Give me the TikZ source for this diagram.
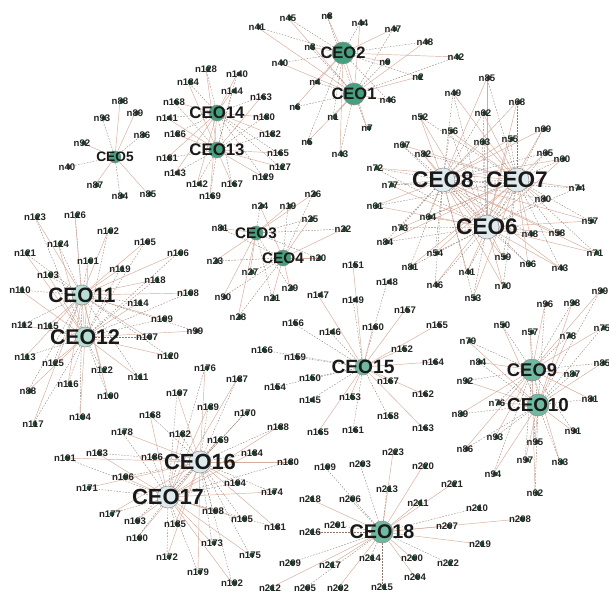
\documentclass[tikz,border=0pt]{standalone}
\usepackage{fontspec}
\setmainfont{Liberation Sans}
\pgfdeclarelayer{bg}
\pgfdeclarelayer{fg}
\pgfsetlayers{bg,main,fg}
\definecolor{esol}{RGB}{214,172,155}
\definecolor{edsh}{RGB}{140,120,110}
\definecolor{dotc}{RGB}{30,78,50}
\definecolor{cgreen}{RGB}{70,160,125}
\definecolor{clight}{RGB}{222,234,238}
\definecolor{cteal}{RGB}{185,222,212}
\definecolor{cmid}{RGB}{110,185,160}
\tikzset{
  es/.style={draw=esol,line width=0.45pt},
  ed/.style={draw=edsh,line width=0.35pt,dash pattern=on 1.6pt off 1.4pt},
  sn/.style={inner sep=0pt,text=black!85,font=\fontsize{9.6}{10}\selectfont\bfseries},
  ceonode/.style={circle,inner sep=0pt,draw=black!45,line width=0.5pt},
  ceolab/.style={inner sep=0pt,text=black!90,font=\bfseries}
}
\newcommand\mkceo[6]{% name,x,y,diameter,fontsize,colour
  \node[ceonode,fill=#6,minimum size=#4] (#1) at (#2,#3) {};
  \begin{pgfonlayer}{fg}
  \node[ceolab,font=\fontsize{#5}{#5}\selectfont\bfseries] (#1lab) at (#2,#3) {#1};
  \end{pgfonlayer}
}
\newcommand\clus[3]{% prefix, ceo list, nodes x/y/label
  \foreach \x/\y/\l [count=\i] in {#3} {
    \fill[dotc] (\x+2,\y) circle (2.4);
    \node[sn] (#1\i) at (\x,\y) {\l};
    \begin{pgfonlayer}{bg}
    \foreach \c [count=\j] in {#2} {
      \pgfmathtruncatemacro\m{mod(\i+\j,2)}
      \ifnum\m=0 \draw[es] (\c) -- (#1\i.center); \else \draw[ed] (\c) -- (#1\i.center); \fi
    }
    \end{pgfonlayer}
  }
}
\begin{document}
\begin{tikzpicture}[x=1pt,y=-1pt]
\begin{pgfonlayer}{bg}
\fill[white] (0,0) rectangle (609,594);
\end{pgfonlayer}
\useasboundingbox (0,0) rectangle (609,594);
% CEO nodes
\mkceo{CEO1}{354}{94}{22}{16.5}{cgreen}
\mkceo{CEO2}{343}{53}{22}{16.5}{cgreen}
\mkceo{CEO3}{256}{233}{14}{15.3}{cgreen}
\mkceo{CEO4}{283}{258}{16}{15.3}{cgreen}
\mkceo{CEO5}{115}{157}{12}{13.7}{cgreen}
\mkceo{CEO6}{487}{227}{24}{22.6}{clight}
\mkceo{CEO7}{517}{180}{24}{22.6}{clight}
\mkceo{CEO8}{443}{180}{24}{22.6}{clight}
\mkceo{CEO9}{532}{370}{22}{18.4}{cmid}
\mkceo{CEO10}{538}{405}{22}{18.8}{cmid}
\mkceo{CEO11}{82}{295}{20}{20.8}{cteal}
\mkceo{CEO12}{85}{337}{20}{21.3}{cteal}
\mkceo{CEO13}{217}{150}{16}{16.8}{cgreen}
\mkceo{CEO14}{217}{113}{16}{16.8}{cgreen}
\mkceo{CEO15}{363}{367}{16}{19.2}{cmid}
\mkceo{CEO16}{200}{462}{22}{21.9}{clight}
\mkceo{CEO17}{168}{497}{22}{21.9}{clight}
\mkceo{CEO18}{382}{532}{22}{19.8}{cmid}
% clusters
\clus{a}{CEO1,CEO2}{288/18/n45, 327/16/n8, 360/23/n44, 393/29/n47, 425/42/n48, 456/57/n42, 257/27/n41, 310/47/n3, 280/63/n40, 385/62/n9, 418/77/n2, 315/82/n4, 388/100/n46, 295/107/n6, 333/117/n1, 367/128/n7, 307/142/n5, 340/154/n43}
\clus{b}{CEO5}{120/101/n88, 102/118/n93, 135/113/n89, 142/135/n86, 82/143/n92, 67/167/n40, 95/185/n87, 120/196/n84, 148/194/n85}
\clus{c}{CEO13,CEO14}{206/69/n128, 237/74/n140, 188/82/n184, 232/91/n144, 261/97/n163, 174/102/n168, 167/118/n141, 264/117/n180, 175/134/n186, 270/134/n182, 278/153/n165, 167/158/n181, 280/167/n127, 175/173/n143, 263/177/n129, 197/184/n142, 232/184/n167, 210/196/n169}
\clus{d}{CEO6,CEO7,CEO8}{487/78/n85, 453/93/n49, 517/102/n68, 483/113/n62, 420/117/n52, 450/131/n56, 543/129/n69, 482/142/n63, 510/139/n55, 402/145/n67, 423/154/n82, 545/153/n65, 562/159/n60, 375/168/n72, 390/185/n77, 577/188/n74, 375/206/n61, 543/199/n80, 428/217/n64, 400/228/n73, 590/221/n57, 530/234/n48, 557/233/n58, 385/242/n84, 595/253/n71, 435/253/n54, 503/257/n59, 528/264/n66, 560/268/n43, 410/267/n81, 467/272/n41, 435/285/n46, 503/286/n70, 473/298/n53}
\clus{e}{CEO3,CEO4}{313/194/n26, 260/206/n24, 288/206/n19, 310/219/n25, 220/228/n81, 343/229/n22, 215/261/n23, 318/258/n20, 250/272/n27, 290/288/n29, 223/297/n90, 272/298/n21, 238/317/n28}
\clus{f}{CEO11,CEO12}{35/217/n123, 75/215/n126, 108/231/n102, 58/244/n124, 145/242/n105, 25/253/n121, 178/253/n106, 88/261/n101, 120/269/n119, 48/275/n103, 155/280/n118, 20/290/n110, 188/293/n108, 138/303/n114, 162/319/n109, 22/325/n112, 48/326/n115, 195/331/n99, 147/337/n107, 168/356/n120, 25/357/n113, 53/363/n125, 102/370/n122, 138/377/n111, 68/384/n116, 28/391/n88, 108/396/n100, 80/417/n104, 33/424/n117}
\clus{g}{CEO15}{353/265/n151, 387/282/n148, 318/295/n147, 353/300/n149, 405/310/n157, 293/323/n156, 373/327/n160, 330/332/n146, 437/325/n155, 262/350/n166, 402/349/n152, 295/357/n159, 433/362/n164, 310/378/n150, 388/381/n167, 275/387/n154, 423/394/n162, 310/400/n145, 350/397/n153, 388/416/n158, 318/432/n165, 353/430/n161, 423/428/n163}
\clus{h}{CEO9,CEO10}{545/304/n96, 572/303/n98, 600/291/n99, 502/325/n50, 530/332/n57, 568/336/n78, 602/328/n75, 468/341/n79, 478/362/n84, 602/363/n85, 572/374/n87, 465/381/n92, 590/399/n81, 497/403/n76, 460/414/n89, 573/431/n91, 495/437/n93, 535/442/n95, 465/449/n86, 525/460/n97, 560/462/n83, 493/474/n94, 535/493/n62}
\clus{i}{CEO16,CEO17}{205/368/n176, 237/379/n187, 177/393/n197, 208/407/n189, 245/413/n170, 150/415/n168, 122/432/n178, 180/434/n182, 218/440/n169, 278/427/n188, 65/458/n191, 97/453/n183, 152/457/n186, 252/453/n184, 288/462/n180, 123/477/n196, 235/483/n194, 272/492/n174, 87/488/n171, 213/511/n198, 110/514/n177, 135/521/n193, 175/524/n185, 242/519/n195, 137/538/n190, 212/543/n173, 167/557/n172, 250/555/n175, 198/572/n179, 232/583/n192, 275/527/n181}
\clus{j}{CEO18}{393/452/n223, 360/464/n203, 423/466/n220, 325/467/n199, 452/484/n221, 387/489/n213, 310/499/n218, 350/499/n206, 418/503/n211, 477/508/n210, 520/519/n208, 335/525/n201, 447/526/n207, 310/532/n216, 480/544/n219, 290/563/n209, 330/565/n217, 370/558/n214, 412/558/n200, 448/563/n222, 415/577/n204, 382/587/n215, 270/588/n212, 305/588/n205, 338/588/n202}
\end{tikzpicture}
\end{document}
